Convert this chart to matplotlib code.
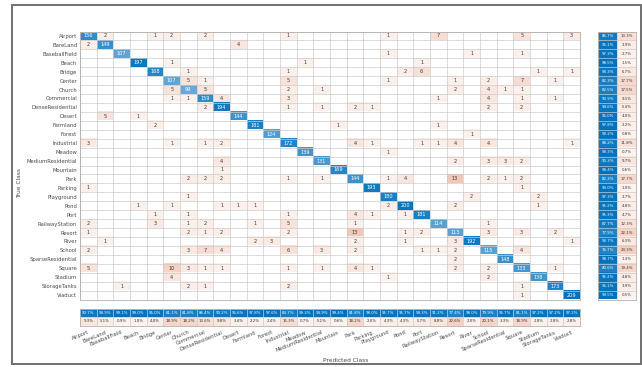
import matplotlib
matplotlib.use("Agg")
import matplotlib.pyplot as plt
import numpy as np
from matplotlib.patches import Rectangle

# class names (rows = true class, columns = predicted class)
classes = ["Airport", "BareLand", "BaseballField", "Beach", "Bridge", "Center", "Church",
           "Commercial", "DenseResidential", "Desert", "Farmland", "Forest", "Industrial",
           "Meadow", "MediumResidential", "Mountain", "Park", "Parking", "Playground", "Pond",
           "Port", "RailwayStation", "Resort", "River", "School", "SparseResidential",
           "Square", "Stadium", "StorageTanks", "Viaduct"]

# confusion counts, one list per true class (3 blocks of 10 columns)
conf_rows = [
    [156, 2, 0, 0, 1, 2, 0, 2, 0, 0,    0, 0, 1, 0, 0, 0, 0, 0, 1, 0,    0, 7, 0, 0, 0, 0, 5, 0, 0, 3],
    [2, 149, 0, 0, 0, 0, 0, 0, 0, 4,    0, 0, 0, 0, 0, 0, 0, 0, 0, 0,    0, 0, 0, 0, 0, 0, 0, 0, 0, 0],
    [0, 0, 107, 0, 0, 0, 0, 0, 0, 0,    0, 0, 0, 0, 0, 0, 0, 0, 1, 0,    0, 0, 0, 1, 0, 0, 1, 0, 0, 0],
    [0, 0, 0, 197, 0, 1, 0, 0, 0, 0,    0, 0, 0, 1, 0, 0, 0, 0, 0, 0,    1, 0, 0, 0, 0, 0, 0, 0, 0, 0],
    [0, 0, 0, 0, 168, 0, 1, 0, 0, 0,    0, 0, 1, 0, 0, 0, 0, 0, 0, 2,    6, 0, 0, 0, 0, 0, 0, 1, 0, 1],
    [0, 0, 0, 0, 0, 107, 5, 1, 0, 0,    0, 0, 5, 0, 0, 0, 0, 0, 1, 0,    0, 0, 1, 0, 2, 0, 7, 0, 1, 0],
    [0, 0, 0, 0, 0, 5, 99, 5, 0, 0,     0, 0, 2, 0, 1, 0, 0, 0, 0, 0,    0, 0, 2, 0, 4, 1, 1, 0, 0, 0],
    [0, 0, 0, 0, 0, 1, 1, 159, 4, 0,    0, 0, 3, 0, 0, 0, 0, 0, 0, 0,    0, 1, 0, 0, 4, 0, 1, 0, 1, 0],
    [0, 0, 0, 0, 0, 0, 0, 2, 194, 0,    0, 0, 1, 0, 1, 0, 2, 1, 0, 0,    0, 0, 0, 0, 2, 0, 2, 0, 0, 0],
    [0, 5, 0, 1, 0, 0, 0, 0, 0, 144,    0, 0, 0, 0, 0, 0, 0, 0, 0, 0,    0, 0, 0, 0, 0, 0, 0, 0, 0, 0],
    [0, 0, 0, 0, 2, 0, 0, 0, 0, 0,      181, 0, 0, 0, 0, 1, 0, 0, 0, 0,  0, 1, 0, 0, 0, 0, 0, 0, 0, 0],
    [0, 0, 0, 0, 0, 0, 0, 0, 0, 0,      0, 124, 0, 0, 0, 0, 0, 0, 0, 0,  0, 0, 0, 1, 0, 0, 0, 0, 0, 0],
    [3, 0, 0, 0, 0, 1, 0, 1, 2, 0,      0, 0, 172, 0, 0, 0, 4, 1, 0, 0,  1, 1, 4, 0, 4, 0, 0, 0, 0, 1],
    [0, 0, 0, 0, 0, 0, 0, 0, 0, 0,      0, 0, 0, 139, 0, 0, 0, 0, 1, 0,  0, 0, 0, 0, 0, 0, 0, 0, 0, 0],
    [0, 0, 0, 0, 0, 0, 0, 0, 4, 0,      0, 0, 0, 0, 131, 0, 0, 0, 0, 0,  0, 0, 2, 0, 3, 3, 2, 0, 0, 0],
    [0, 0, 0, 0, 0, 0, 0, 0, 1, 0,      0, 0, 0, 0, 0, 169, 0, 0, 0, 0,  0, 0, 0, 0, 0, 0, 0, 0, 0, 0],
    [0, 0, 0, 0, 0, 0, 2, 2, 2, 0,      0, 0, 1, 0, 1, 0, 144, 0, 1, 4,  0, 0, 13, 0, 2, 1, 2, 0, 0, 0],
    [1, 0, 0, 0, 0, 0, 0, 0, 0, 0,      0, 0, 0, 0, 0, 0, 0, 193, 0, 0,  0, 0, 0, 0, 0, 0, 1, 0, 0, 0],
    [0, 0, 0, 0, 0, 0, 1, 0, 0, 0,      0, 0, 0, 0, 0, 0, 0, 0, 180, 0,  0, 0, 0, 2, 0, 0, 0, 2, 0, 0],
    [0, 0, 0, 1, 0, 1, 0, 0, 1, 1,      1, 0, 0, 0, 0, 0, 0, 0, 2, 200,  0, 0, 2, 0, 0, 0, 0, 1, 0, 0],
    [0, 0, 0, 0, 1, 0, 1, 0, 0, 0,      0, 0, 1, 0, 0, 0, 4, 1, 0, 1,    181, 0, 0, 0, 0, 0, 0, 0, 0, 0],
    [2, 0, 0, 0, 3, 0, 1, 2, 0, 0,      1, 0, 5, 0, 0, 0, 1, 0, 0, 0,    0, 114, 0, 0, 1, 0, 0, 0, 0, 0],
    [1, 0, 0, 0, 0, 0, 2, 1, 2, 0,      0, 0, 2, 0, 0, 0, 13, 0, 0, 1,   2, 0, 113, 0, 3, 0, 3, 0, 2, 0],
    [0, 1, 0, 0, 0, 0, 0, 0, 0, 0,      2, 3, 0, 0, 0, 0, 2, 0, 0, 1,    0, 0, 3, 192, 0, 0, 0, 0, 0, 1],
    [2, 0, 0, 0, 0, 0, 3, 7, 4, 0,      0, 0, 6, 0, 3, 0, 2, 0, 0, 0,    1, 1, 2, 0, 115, 0, 4, 0, 0, 0],
    [0, 0, 0, 0, 0, 0, 0, 0, 0, 0,      0, 0, 0, 0, 0, 0, 0, 0, 0, 0,    0, 0, 2, 0, 0, 148, 0, 0, 0, 0],
    [5, 0, 0, 0, 0, 10, 3, 1, 1, 0,     0, 0, 1, 0, 1, 0, 4, 1, 0, 0,    0, 0, 2, 0, 2, 0, 133, 0, 1, 0],
    [0, 0, 0, 0, 0, 4, 0, 0, 0, 0,      0, 0, 0, 0, 0, 0, 0, 0, 1, 0,    0, 0, 0, 0, 2, 0, 0, 138, 0, 0],
    [0, 0, 1, 0, 0, 0, 2, 1, 0, 0,      0, 0, 2, 0, 0, 0, 0, 0, 0, 0,    0, 0, 0, 0, 0, 0, 1, 0, 173, 0],
    [0, 0, 0, 0, 0, 0, 0, 0, 0, 0,      0, 0, 0, 0, 0, 0, 0, 0, 0, 0,    0, 0, 0, 0, 0, 0, 1, 0, 0, 209],
]

W, H = 642, 367
BLUE = np.array([0, 114, 189]) / 255
ORANGE = np.array([217, 83, 25]) / 255
GRID = "#cfcaca"
LABEL = "#4a4a4a"


def blend(base, a):
    return 1 - a * (1 - base)


def px_axes(fig, x0, y0, x1, y1):
    # pixel box (top-left origin) -> figure axes
    return fig.add_axes([x0 / W, 1 - y1 / H, (x1 - x0) / W, (y1 - y0) / H])


cm = np.array(conf_rows)
n = len(classes)
row_tot = cm.sum(axis=1)
col_tot = cm.sum(axis=0)
diag = np.diag(cm)
recall = diag / row_tot
precision = diag / col_tot

fig = plt.figure(figsize=(W / 100, H / 100), dpi=100)

# ---- main matrix ----
ax = px_axes(fig, 80, 31.5, 580, 299.5)
img = np.ones((n, n, 3))
for i in range(n):
    for j in range(n):
        v = cm[i, j]
        if v == 0:
            continue
        if i == j:
            img[i, j] = blend(BLUE, 0.25 + 0.75 * v / diag.max())
        else:
            img[i, j] = blend(ORANGE, 0.06 + 0.26 * v / 13)
        ax.text(j, i, str(v), ha="center", va="center", fontsize=3.6,
                color="white" if i == j else "#3a3a3a")
ax.imshow(img, extent=(-0.5, n - 0.5, n - 0.5, -0.5), aspect="auto", interpolation="nearest")
ax.set_xticks(np.arange(-0.5, n), minor=True)
ax.set_yticks(np.arange(-0.5, n), minor=True)
ax.grid(which="minor", color=GRID, lw=0.5)
ax.set_xticks([])
ax.set_yticks(range(n))
ax.set_yticklabels(classes, fontsize=3.8, color=LABEL)
ax.tick_params(which="both", length=0, pad=2)
for s in ax.spines.values():
    s.set_color("#b5b0b0")
    s.set_linewidth(0.6)

# ---- right summary (per true class) ----
axr = px_axes(fig, 598, 31.5, 636, 299.5)
rimg = np.ones((n, 2, 3))
for i in range(n):
    rimg[i, 0] = blend(BLUE, 0.45 + 0.55 * recall[i])
    rimg[i, 1] = blend(ORANGE, 0.06 + 0.9 * (1 - recall[i]))
    axr.text(0, i, f"{100 * recall[i]:.1f}%", ha="center", va="center", fontsize=2.8, color="white")
    axr.text(1, i, f"{100 * (1 - recall[i]):.1f}%", ha="center", va="center", fontsize=2.8, color="#333333")
axr.imshow(rimg, extent=(-0.5, 1.5, n - 0.5, -0.5), aspect="auto", interpolation="nearest")
axr.set_xticks(np.arange(-0.5, 2), minor=True)
axr.set_yticks(np.arange(-0.5, n), minor=True)
axr.grid(which="minor", color=GRID, lw=0.5)
axr.set_xticks([])
axr.set_yticks([])
axr.tick_params(which="both", length=0)
for s in axr.spines.values():
    s.set_color("#b5b0b0")
    s.set_linewidth(0.6)

# ---- bottom summary (per predicted class) ----
axb = px_axes(fig, 80, 309, 580, 325.5)
bimg = np.ones((2, n, 3))
for j in range(n):
    bimg[0, j] = blend(BLUE, 0.45 + 0.55 * precision[j])
    bimg[1, j] = blend(ORANGE, 0.06 + 0.9 * (1 - precision[j]))
    axb.text(j, 0, f"{100 * precision[j]:.1f}%", ha="center", va="center", fontsize=2.8, color="white")
    axb.text(j, 1, f"{100 * (1 - precision[j]):.1f}%", ha="center", va="center", fontsize=2.8, color="#333333")
axb.imshow(bimg, extent=(-0.5, n - 0.5, 1.5, -0.5), aspect="auto", interpolation="nearest")
axb.set_xticks(np.arange(-0.5, n), minor=True)
axb.set_yticks(np.arange(-0.5, 2), minor=True)
axb.grid(which="minor", color=GRID, lw=0.5)
axb.set_yticks([])
axb.set_xticks(range(n))
axb.set_xticklabels(classes, fontsize=3.8, color=LABEL, rotation=22,
                    ha="right", va="top", rotation_mode="anchor")
axb.tick_params(which="both", length=0, pad=3)
for s in axb.spines.values():
    s.set_color("#b5b0b0")
    s.set_linewidth(0.6)

fig.text(20 / W, 1 - 183 / H, "True Class", rotation=90, ha="center", va="center",
         fontsize=4.2, color=LABEL)
fig.text(346 / W, 1 - 361 / H, "Predicted Class", ha="center", va="center",
         fontsize=4.2, color=LABEL)

# frame around the whole chart
fig.patches.append(Rectangle((12 / W, 3 / H), (640.5 - 12) / W, (362 - 3) / H,
                             transform=fig.transFigure, fill=False, ec="#707070", lw=1.4))

fig.savefig("out.png", dpi=100)
